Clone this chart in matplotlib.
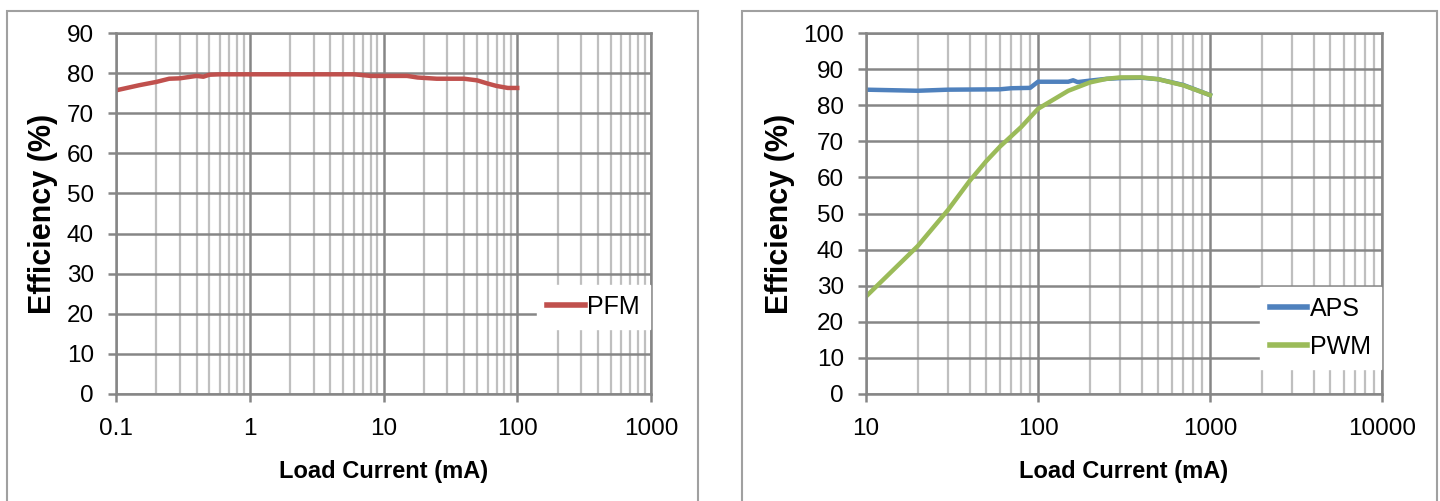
import matplotlib
matplotlib.use("Agg")
import matplotlib.pyplot as plt
from matplotlib.patches import Rectangle
from matplotlib.ticker import LogLocator, NullFormatter

plt.rcParams['font.family'] = ['Liberation Sans', 'DejaVu Sans']

###### data ######
pfm_x = [0.1, 0.15, 0.2, 0.25, 0.3, 0.4, 0.45, 0.5, 0.6, 1, 3, 6, 7, 8, 15, 18, 25, 40, 50, 60, 70, 85, 100]
pfm_y = [75.7, 77.0, 77.8, 78.6, 78.7, 79.3, 79.1, 79.6, 79.7, 79.7, 79.7, 79.7, 79.5, 79.3, 79.3, 78.9, 78.6, 78.6, 78.2, 77.4, 76.8, 76.3, 76.3]

aps_x = [10, 20, 30, 60, 70, 90, 100, 150, 160, 170, 200, 250, 300, 400, 500, 700, 1000]
aps_y = [84.3, 84.0, 84.3, 84.4, 84.7, 84.8, 86.5, 86.5, 86.9, 86.4, 86.8, 87.3, 87.5, 87.6, 87.2, 85.6, 82.8]

pwm_x = [10, 20, 30, 40, 50, 60, 80, 100, 150, 200, 250, 300, 400, 500, 700, 1000]
pwm_y = [27.0, 41.0, 51.0, 59.0, 64.5, 68.5, 74.0, 79.0, 84.0, 86.3, 87.3, 87.7, 87.7, 87.2, 85.5, 82.8]

fig = plt.figure(figsize=(14.4, 5.01), dpi=100)

# outer chart frames
for x0, x1 in [(7, 698), (742, 1437)]:
    fig.patches.append(Rectangle((x0 / 1440, -0.05), (x1 - x0) / 1440, 1.05 - 11 / 501,
                                 transform=fig.transFigure, fill=False,
                                 edgecolor='#a0a0a0', linewidth=1.5))

def style(ax, xlim, ymax):
    ax.set_xscale('log')
    ax.set_xlim(*xlim)
    ax.set_ylim(0, ymax)
    ax.set_yticks(range(0, ymax + 1, 10))
    ax.xaxis.set_major_locator(LogLocator(base=10))
    ax.xaxis.set_minor_locator(LogLocator(base=10, subs=range(2, 10)))
    ax.xaxis.set_minor_formatter(NullFormatter())
    ax.xaxis.set_major_formatter(plt.FuncFormatter(lambda v, p: ('%g' % v)))
    ax.grid(which='major', color='#868686', linewidth=1.8)
    ax.grid(which='minor', axis='x', color='#bfbfbf', linewidth=1.6)
    for s in ax.spines.values():
        s.set_color('#868686')
        s.set_linewidth(1.8)
    ax.tick_params(which='major', length=6, color='#868686', width=1.8, labelsize=17.5, pad=10)
    ax.tick_params(axis='x', which='major', pad=11)
    ax.tick_params(which='minor', length=0)
    ax.set_axisbelow(True)
    ax.set_ylabel('Efficiency (%)', fontsize=22, fontweight='bold', labelpad=6)
    ax.set_xlabel('Load Current (mA)', fontsize=17, fontweight='bold', labelpad=15)

def legend(ax, y, spacing):
    leg = ax.legend(loc='center right', bbox_to_anchor=(0.998, y), fontsize=18,
                    frameon=True, fancybox=False, handlelength=1.5, handletextpad=0.1,
                    borderpad=0.4, labelspacing=spacing, borderaxespad=0)
    leg.get_frame().set_edgecolor('white')
    leg.get_frame().set_alpha(1)
    for h in leg.get_lines():
        h.set_linewidth(4)

ax1 = fig.add_axes([116 / 1440, 1 - 394 / 501, 535 / 1440, 361 / 501])
style(ax1, (0.1, 1000), 90)
ax1.plot(pfm_x, pfm_y, color='#c0504d', linewidth=3.2, label='PFM')
legend(ax1, 0.241, 0.5)

ax2 = fig.add_axes([866 / 1440, 1 - 394 / 501, 516 / 1440, 361 / 501])
style(ax2, (10, 10000), 100)
ax2.plot(aps_x, aps_y, color='#4f81bd', linewidth=3.2, label='APS')
ax2.plot(pwm_x, pwm_y, color='#9bbb59', linewidth=3.2, label='PWM')
legend(ax2, 0.183, 0.55)

fig.savefig('out.png', dpi=100)
